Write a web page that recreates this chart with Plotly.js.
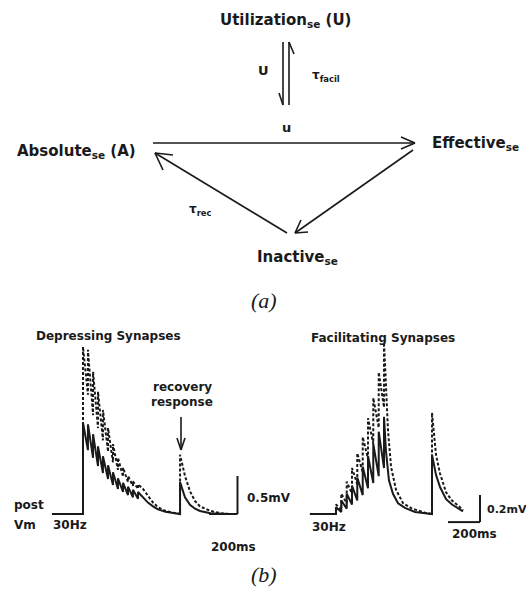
<!DOCTYPE html>
<html><head><meta charset="utf-8">
<script src="https://cdn.plot.ly/plotly-3.0.1.min.js"></script>
<style>html,body{margin:0;padding:0;background:#fff}</style>
</head><body><div id="chart" style="width:526px;height:590px"></div>
<script>
// ---- Data: depressing synapses (time in ms from train onset, Vm in mV) ----
const depSolidT = [-207,0,0,33,33,67,67,100,100,133,133,167,167,200,200,233,233,267,267,300,300,333,333,367,367,400,433,467,500,550,600,647,647,680,713,747,780,850,980];
const depSolidV = [0,0,1.20,0.84,1.18,0.74,1.05,0.63,0.89,0.54,0.76,0.46,0.64,0.38,0.55,0.33,0.47,0.29,0.41,0.25,0.36,0.22,0.32,0.20,0.29,0.22,0.15,0.10,0.06,0.03,0.01,0,0.42,0.22,0.12,0.07,0.04,0.01,0];
const depDashT = [-207,0,0,33,33,67,67,100,100,133,133,167,167,200,200,233,233,267,267,300,300,333,333,367,367,400,433,467,500,550,600,647,647,680,713,747,780,850,920,980];
const depDashV = [0,0,2.20,1.57,2.16,1.30,1.87,1.13,1.61,0.97,1.37,0.82,1.13,0.68,0.92,0.58,0.74,0.49,0.61,0.42,0.50,0.37,0.43,0.33,0.39,0.33,0.24,0.15,0.09,0.04,0.015,0,0.78,0.50,0.30,0.17,0.10,0.04,0.01,0];
// ---- Data: facilitating synapses ----
const facSolidT = [-163,0,0,33,33,67,67,100,100,133,133,167,167,200,200,233,233,267,267,300,300,312,331,356,388,431,494,600,600,625,650,688,725,794];
const facSolidV = [0,0,0.05,0.015,0.10,0.04,0.15,0.07,0.21,0.10,0.27,0.14,0.35,0.19,0.43,0.23,0.52,0.28,0.61,0.34,0.72,0.47,0.25,0.15,0.08,0.045,0.015,0,0.44,0.29,0.20,0.11,0.07,0.02];
const facDashT = [-163,0,0,33,33,67,67,100,100,133,133,167,167,200,200,233,233,267,267,300,300,325,344,375,419,475,556,600,600,625,650,688,725,794];
const facDashV = [0,0,0.07,0.03,0.15,0.08,0.24,0.15,0.34,0.22,0.45,0.31,0.57,0.41,0.71,0.52,0.86,0.64,1.05,0.79,1.27,0.62,0.35,0.18,0.08,0.04,0.01,0,0.75,0.44,0.30,0.16,0.10,0.03];
// ---- Scale bars (ms, mV) ----
const depScaleT = [840,1030]; const depScaleV = [0,0.5];
const facScaleT = [700,900];  const facScaleV = [-0.06,0.14];
// ---- Texts ----
const stateLabels = ['Utilization<sub>se</sub> (U)','Absolute<sub>se</sub> (A)','Effective<sub>se</sub>','Inactive<sub>se</sub>'];
const panelTitles = ['Depressing Synapses','Facilitating Synapses'];

const W=526,H=590;
const px = x => x/W, py = y => 1-y/H;
function rX(p0,k){return [(0-p0)/k,(W-p0)/k];}
function rY(p0,k){return [(p0-H)/k,p0/k];}

const ink='#1a1a1a';
const traces=[
 {x:depSolidT,y:depSolidV,xaxis:'x2',yaxis:'y2',mode:'lines',line:{color:ink,width:2},hoverinfo:'skip'},
 {x:depDashT,y:depDashV,xaxis:'x2',yaxis:'y2',mode:'lines',line:{color:ink,width:2,dash:'3px,2px'},hoverinfo:'skip'},
 {x:facSolidT,y:facSolidV,xaxis:'x3',yaxis:'y3',mode:'lines',line:{color:ink,width:2},hoverinfo:'skip'},
 {x:facDashT,y:facDashV,xaxis:'x3',yaxis:'y3',mode:'lines',line:{color:ink,width:2,dash:'3px,2px'},hoverinfo:'skip'}
];

const shapes=[];
function L(x0,y0,x1,y1,w){shapes.push({type:'line',xref:'paper',yref:'paper',x0:px(x0),y0:py(y0),x1:px(x1),y1:py(y1),line:{color:ink,width:w||1.6}});}
function bar(ax,ay,t0,t1,v0,v1){
  shapes.push({type:'line',xref:ax,yref:ay,x0:t0,x1:t1,y0:v0,y1:v0,line:{color:ink,width:2}});
  shapes.push({type:'line',xref:ax,yref:ay,x0:t1,x1:t1,y0:v0,y1:v1,line:{color:ink,width:2}});
}
// diagram arrows
L(283,42,283,105); L(283,105,279,93);           // U down
L(289,42,289,105); L(289,42,294,54);            // tau facil up
L(153,143,415,143); L(415,143,401,137); L(415,143,401,149); // u
L(287,233,155,153); L(155,153,173,155); L(155,153,163,170); // tau rec
L(413,150,295,233); L(295,233,308,232); L(295,233,301,220); // effective -> inactive
// recovery arrow
L(181,417,181,448,1.6); L(181,450,177,438); L(181,450,185,438);
bar('x2','y2',depScaleT[0],depScaleT[1],depScaleV[0],depScaleV[1]);
bar('x3','y3',facScaleT[0],facScaleT[1],facScaleV[0],facScaleV[1]);

const ann=[];
function T(text,x,y,size,xa,opt){
  ann.push(Object.assign({text:text,x:px(x),y:py(y),xref:'paper',yref:'paper',showarrow:false,xanchor:xa||'center',yanchor:'middle',
    font:{family:'DejaVu Sans',size:size,color:ink,weight:'bold'}},opt||{}));
}
T(stateLabels[0],285,20,15);
T(stateLabels[1],15,152,15,'left');
T(stateLabels[2],430,143,15,'left');
T(stateLabels[3],255,257,15,'left');
T('U',263,70,13);
T('τ<sub>facil</sub>',310,76,12,'left');
T('u',286,127,13);
T('τ<sub>rec</sub>',187,210,12,'left');
T(panelTitles[0],108,336,12);
T(panelTitles[1],383,338,12);
T('recovery',182,387,12);
T('response',182,402,12);
T('post',12,505,12,'left');
T('Vm',12,525,12,'left');
T('30Hz',51,525,12,'left');
T('0.5mV',245,498,12,'left');
T('200ms',209,547,12,'left');
T('30Hz',310,527,12,'left');
T('0.2mV',485,509,11,'left');
T('200ms',450,534,12,'left');
const ital={font:{family:'Liberation Serif',size:22,color:ink,style:'italic'}};
T('(a)',264,301,22,'center',ital);
T('(b)',264,574,22,'center',ital);

const hid={visible:false,fixedrange:true};
const layout={width:W,height:H,margin:{l:0,r:0,t:0,b:0},paper_bgcolor:'#fff',plot_bgcolor:'rgba(0,0,0,0)',showlegend:false,
 xaxis2:Object.assign({domain:[0,1],anchor:'y2',range:rX(83,0.15)},hid),
 yaxis2:Object.assign({domain:[0,1],anchor:'x2',range:rY(514,76)},hid),
 xaxis3:Object.assign({domain:[0,1],anchor:'y3',range:rX(336,0.16)},hid),
 yaxis3:Object.assign({domain:[0,1],anchor:'x3',range:rY(514,135)},hid),
 shapes:shapes,annotations:ann};
Plotly.newPlot('chart',traces,layout,{staticPlot:true,displayModeBar:false});
</script></body></html>
